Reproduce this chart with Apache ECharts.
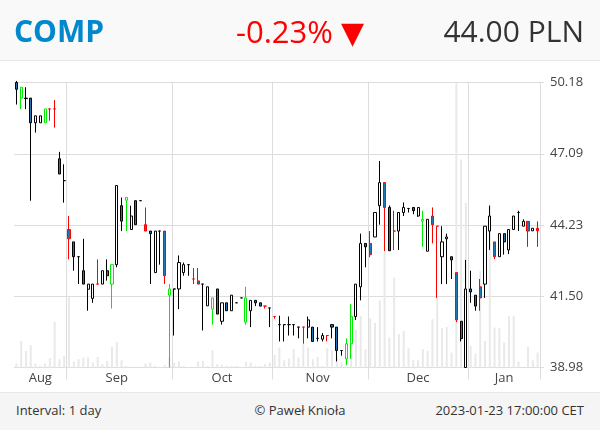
<!DOCTYPE html>
<html>
<head>
<meta charset="utf-8">
<script src="https://cdn.jsdelivr.net/npm/echarts@6/dist/echarts.min.js"></script>
<style>
  body { margin: 0; width: 600px; height: 430px; overflow: hidden; background: #fff; font-family: 'Open Sans', sans-serif; }
  #chart { position: absolute; left: 0; top: 0; width: 600px; height: 430px; }
  #head { position: absolute; left: 0; top: 0; width: 600px; height: 60px; background: #f9f9f9; border-bottom: 1px solid #e6e6e6; }
  #head span { position: absolute; top: 0; line-height: 62px; font-size: 30px; white-space: nowrap; }
  #sym { left: 14px; color: #0088cc; font-weight: 700; }
  #chg { left: 236px; color: #ff0000; font-size: 31px !important; }
  #chg b { font-family: 'DejaVu Sans', sans-serif; font-weight: normal; font-size: 30px; }
  #last { right: 16px; color: #333; }
  #foot { position: absolute; left: 0; top: 392px; width: 600px; height: 38px; background: #f5f5f5; border-top: 1px solid #e6e6e6; }
  #foot span { position: absolute; top: 0; line-height: 34px; font-size: 13px; color: #333; white-space: nowrap; }
</style>
</head>
<body>
<div id="chart"></div>
<div id="head">
  <span id="sym">COMP</span>
  <span id="chg">-0.23% <b>▼</b></span>
  <span id="last">44.00 PLN</span>
</div>
<div id="foot">
  <span style="left:16px">Interval: 1 day</span>
  <span style="left:0;width:600px;text-align:center">© Paweł Knioła</span>
  <span style="right:16px">2023-01-23 17:00:00 CET</span>
</div>
<script>
// trading days, 2022-08-17 .. 2023-01-23
var dates = [
  '2022-08-17','2022-08-18','2022-08-19','2022-08-22','2022-08-23','2022-08-24','2022-08-25','2022-08-26','2022-08-29','2022-08-30','2022-08-31',
  '2022-09-01','2022-09-02','2022-09-05','2022-09-06','2022-09-07','2022-09-08','2022-09-09','2022-09-12','2022-09-13','2022-09-14','2022-09-15',
  '2022-09-16','2022-09-19','2022-09-20','2022-09-21','2022-09-22','2022-09-23','2022-09-26','2022-09-27','2022-09-28','2022-09-29','2022-09-30',
  '2022-10-03','2022-10-04','2022-10-05','2022-10-06','2022-10-07','2022-10-10','2022-10-11','2022-10-12','2022-10-13','2022-10-14','2022-10-17',
  '2022-10-18','2022-10-19','2022-10-20','2022-10-21','2022-10-24','2022-10-25','2022-10-26','2022-10-27','2022-10-28','2022-10-31',
  '2022-11-02','2022-11-03','2022-11-04','2022-11-07','2022-11-08','2022-11-09','2022-11-10','2022-11-14','2022-11-15','2022-11-16','2022-11-17','2022-11-18',
  '2022-11-21','2022-11-22','2022-11-23','2022-11-24','2022-11-25','2022-11-28','2022-11-29','2022-11-30',
  '2022-12-01','2022-12-02','2022-12-05','2022-12-06','2022-12-07','2022-12-08','2022-12-09','2022-12-12','2022-12-13','2022-12-14','2022-12-15','2022-12-16','2022-12-19','2022-12-20',
  '2022-12-21','2022-12-22','2022-12-23','2022-12-27','2022-12-28','2022-12-29','2022-12-30',
  '2023-01-02','2023-01-03','2023-01-04','2023-01-05','2023-01-09','2023-01-10','2023-01-11','2023-01-12','2023-01-13','2023-01-16','2023-01-17','2023-01-18','2023-01-19','2023-01-20','2023-01-23'
];

var open = [
  50.18,49.49,49.49,49.49,48.42,48.42,48.42,49.02,49.02,46.90,46.00,
  44.05,43.57,43.00,42.47,41.78,41.44,41.97,41.97,42.47,41.97,42.70,
  44.99,45.21,44.05,45.19,45.19,44.24,43.99,42.40,43.99,43.99,41.56,
  41.79,41.79,42.40,42.70,42.16,42.09,41.97,41.17,41.05,41.79,40.61,
  41.28,40.99,41.28,41.46,40.58,40.99,41.37,41.28,41.16,41.09,
  40.78,40.49,40.49,40.49,40.49,40.40,40.40,40.40,40.40,40.00,39.97,40.10,
  40.49,40.40,39.57,39.28,39.81,40.78,41.87,43.51,
  43.51,43.76,44.99,45.92,44.92,43.99,43.99,44.72,44.88,44.92,44.58,44.38,43.21,44.58,
  44.18,43.00,43.69,43.00,42.40,40.61,38.98,
  41.79,41.56,41.87,41.97,43.99,43.57,43.00,43.89,43.26,44.05,44.72,44.18,44.37,44.00,44.10
];
var high = [
  50.25,49.97,49.97,49.49,48.72,48.72,49.02,49.02,49.41,47.19,46.67,
  44.58,43.57,43.00,43.69,41.97,41.97,42.90,42.47,42.90,42.70,45.80,
  45.32,45.32,44.99,45.19,45.19,44.92,43.99,43.99,43.99,43.99,41.97,
  41.79,43.05,42.78,42.70,42.57,42.57,41.97,41.87,41.46,41.79,41.28,
  41.28,41.56,41.28,41.46,41.87,41.37,41.37,41.28,41.16,41.09,
  40.78,40.81,40.49,40.78,40.49,40.40,40.40,40.78,40.40,40.40,40.19,40.10,
  40.49,40.40,39.57,40.00,41.23,41.97,43.89,43.51,
  43.99,44.72,46.81,45.92,45.00,44.79,44.72,45.12,44.88,44.92,44.92,44.79,44.45,44.92,
  44.18,44.18,43.89,43.00,42.40,40.61,42.88,
  42.47,41.56,42.16,44.18,44.99,43.57,43.89,43.89,44.05,44.58,44.79,44.45,44.37,44.10,44.37
];
var low = [
  49.21,49.01,49.01,45.19,48.00,48.42,48.42,48.51,48.21,46.27,45.11,
  42.90,42.47,41.97,41.97,40.99,41.28,41.97,41.97,42.10,41.07,42.60,
  43.99,43.99,44.05,44.24,45.19,43.99,41.97,42.40,42.70,41.97,38.98,
  40.10,41.05,42.28,42.28,41.97,41.97,40.28,41.17,40.49,40.87,40.49,
  40.99,40.99,41.28,41.46,40.49,40.40,41.16,41.16,41.07,40.40,
  40.70,39.89,39.89,40.10,40.10,40.00,39.81,40.00,39.89,39.89,39.89,39.89,
  40.00,39.19,39.39,39.07,39.28,40.66,41.37,42.60,
  42.98,43.76,44.24,43.21,43.23,43.26,43.26,44.58,44.72,44.65,44.55,43.38,43.21,43.51,
  41.46,41.97,41.97,42.16,40.58,39.89,38.98,
  41.28,40.99,40.99,41.46,43.26,42.91,43.00,43.08,43.10,44.05,43.99,44.18,43.38,44.00,43.38
];
var close = [
  49.88,49.97,49.47,48.42,48.72,48.72,49.02,49.02,49.02,46.27,46.00,
  43.69,43.00,43.00,41.97,41.97,41.97,41.97,42.47,42.28,42.70,45.80,
  44.38,45.32,44.58,44.24,45.19,43.99,43.89,43.99,43.99,42.28,41.79,
  41.79,42.78,42.70,42.70,42.16,41.97,41.97,41.87,41.46,40.87,41.28,
  40.99,41.56,41.28,41.46,41.46,41.37,41.28,41.16,41.16,41.09,
  40.78,40.49,40.49,40.49,40.49,40.40,40.40,40.66,39.89,40.00,40.10,40.10,
  40.40,39.57,39.57,39.81,40.78,41.97,43.51,43.38,
  43.08,44.72,45.92,44.92,43.23,43.99,44.72,44.92,44.88,44.79,44.92,44.45,44.45,44.24,
  44.18,43.57,43.76,42.88,40.66,39.99,41.79,
  41.68,41.16,41.46,44.18,44.58,43.00,43.89,43.57,44.05,44.58,44.72,44.37,43.99,44.10,44.00
];
// candle marker: 0 plain, 1 bullish, -1 bearish
var signal = [
  0,1,0,0,0,0,1,-1,-1,0,0,
  -1,0,0,0,0,0,-1,0,0,1,0,
  0,1,0,0,0,-1,0,0,0,-1,1,
  0,0,0,0,-1,-1,0,0,1,0,0,
  0,0,0,0,1,0,0,0,-1,0,
  -1,0,0,0,0,0,-1,0,0,0,0,-1,
  0,0,0,1,1,0,0,0,
  -1,0,0,-1,0,-1,0,0,0,0,0,1,0,-1,
  -1,0,0,0,-1,0,0,
  0,0,-1,0,0,-1,0,0,0,0,0,0,-1,0,-1
];
var volume = [
  12,80,50,68,12,5,12,28,137,25,35,
  213,18,25,30,30,15,32,10,20,62,77,
  22,5,2,2,2,12,15,5,2,8,30,
  15,18,5,2,2,18,20,5,52,10,8,
  5,5,5,2,17,15,5,5,10,15,
  38,60,22,27,55,30,70,60,25,32,5,58,
  52,30,15,28,190,113,155,55,
  148,134,202,348,90,270,100,110,58,22,22,55,50,145,
  210,118,122,45,855,625,495,
  65,42,290,80,490,120,118,75,155,155,18,0,62,22,45
];
var yTicks = [38.98, 41.50, 44.23, 47.09, 50.18];
var monthNames = ['Jan','Feb','Mar','Apr','May','Jun','Jul','Aug','Sep','Oct','Nov','Dec'];

// log price scale, mapped so that the five ticks sit on 0..4
var LMIN = Math.log(yTicks[0]);
var STEP = (Math.log(yTicks[4]) - LMIN) / 4;
function ly(v) { return (Math.log(v) - LMIN) / STEP; }

var monthStart = {};
var monthLabel = {};
var first = 0;
for (var i = 1; i <= dates.length; i++) {
  if (i === dates.length || dates[i].slice(0, 7) !== dates[i - 1].slice(0, 7)) {
    monthLabel[Math.floor((first + i - 1) / 2)] = true;
    if (i < dates.length) monthStart[i] = true;
    first = i;
  }
}

var edge = { '0': '#000', '1': '#00ee00', '-1': '#ff0000' };
var candles = dates.map(function (d, i) {
  var c = edge[signal[i]];
  return {
    value: [ly(open[i]), ly(close[i]), ly(low[i]), ly(high[i])],
    itemStyle: { borderColor: c, borderColor0: c }
  };
});

var gridColor = '#dddddd';
var chart = echarts.init(document.getElementById('chart'));
chart.setOption({
  animation: false,
  grid: { left: 14, right: 60, top: 82.5, height: 285 },
  xAxis: [{
    type: 'category',
    data: dates,
    boundaryGap: true,
    axisLine: { show: false },
    axisTick: { show: true, length: 12, lineStyle: { color: gridColor }, interval: function (i) { return !!monthStart[i]; } },
    splitLine: { show: true, lineStyle: { color: gridColor }, interval: function (i) { return !!monthStart[i]; } },
    axisLabel: {
      interval: function (i) { return !!monthLabel[i]; },
      formatter: function (v) { return monthNames[parseInt(v.slice(5, 7), 10) - 1]; },
      color: '#444', fontSize: 13, fontFamily: 'Open Sans', margin: 4
    }
  }, {
    type: 'category',
    data: dates,
    position: 'top',
    boundaryGap: true,
    axisLine: { show: false },
    axisLabel: { show: false },
    axisTick: { show: true, length: 12, lineStyle: { color: gridColor }, interval: function (i) { return !!monthStart[i]; } }
  }],
  yAxis: [{
    type: 'value',
    position: 'right',
    min: 0, max: 4, interval: 1,
    axisLine: { show: false },
    axisTick: { show: true, length: 4, lineStyle: { color: gridColor } },
    splitLine: { lineStyle: { color: gridColor } },
    axisLabel: {
      margin: 10, color: '#444', fontSize: 13, fontFamily: 'Open Sans',
      formatter: function (v) { return yTicks[Math.round(v)].toFixed(2); }
    }
  }, {
    type: 'value',
    min: 0, max: 857,
    show: false,
    splitLine: { show: false }
  }],
  series: [{
    type: 'bar',
    xAxisIndex: 0, yAxisIndex: 1,
    data: volume,
    barWidth: 2,
    itemStyle: { color: '#e9e9e9' },
    z: 1,
    silent: true
  }, {
    type: 'candlestick',
    xAxisIndex: 0, yAxisIndex: 0,
    data: candles,
    barWidth: 2.6,
    itemStyle: { color: '#ffffff', color0: '#1f77b4', borderColor: '#000', borderColor0: '#000', borderWidth: 1 },
    z: 3
  }]
});
</script>
</body>
</html>
